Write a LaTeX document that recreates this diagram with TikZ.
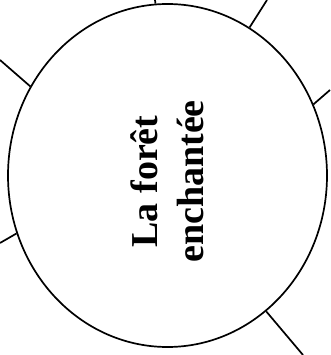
\documentclass[tikz,border=0pt]{standalone}
\usepackage{fontspec}
\setmainfont{Liberation Serif}
\usetikzlibrary{shapes.geometric}
\begin{document}
\begin{tikzpicture}[x=1pt,y=-1pt,
  ring/.style={draw,ellipse,line width=1.7pt,minimum width=319pt,minimum height=343pt,inner sep=0pt},
  ray/.style={line width=1.7pt},
  title/.style={rotate=90,align=center,font=\fontsize{38}{46}\selectfont\bfseries,inner sep=0pt}]
\useasboundingbox (0,0) rectangle (330,355);
\node[ring] (e) at (167.5,175.5) {};
\node[title] (t) at (167,181.5) {La forêt\\enchantée};
\coordinate (o1) at (155,0);
\coordinate (o2) at (267,0);
\coordinate (o3) at (330,90);
\coordinate (o4) at (0,60);
\coordinate (o5) at (0,243);
\coordinate (o6) at (303,355);
\draw[ray] (e.94.2) -- (o1);
\draw[ray] (e.61.5) -- (o2);
\draw[ray] (e.26.5) -- (o3);
\draw[ray] (e.147.7) -- (o4);
\draw[ray] (e.201.6) -- (o5);
\draw[ray] (e.306.4) -- (o6);
\end{tikzpicture}
\end{document}
